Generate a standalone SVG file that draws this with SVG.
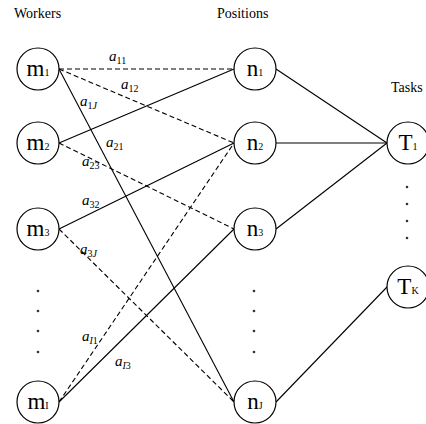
<svg xmlns="http://www.w3.org/2000/svg" width="426" height="424" viewBox="0 0 426 424">
<style>
text{font-family:"Liberation Serif","Times New Roman",serif;fill:#000}
.hdr{font-size:14px}
.nd circle{fill:#fff;stroke:#000;stroke-width:1.2}
.nl{font-size:23px;text-anchor:middle}
.sb{font-size:10px}
.ed line{stroke:#000;stroke-width:1.1}
.ed line.d{stroke-dasharray:5,3}
.lb{font-size:15px;font-style:italic}
.ls{font-size:10px;font-style:normal}
.li{font-size:10px;font-style:italic}
.dot{fill:#333}
</style>
<rect width="426" height="424" fill="#fff"/>
<text class="hdr" x="14" y="18">Workers</text>
<text class="hdr" x="217" y="18">Positions</text>
<text class="hdr" x="391" y="92">Tasks</text>
<g class="ed" id="connectors">
<line class="d" x1="59" y1="69" x2="234" y2="69"/>
<line class="d" x1="59" y1="69" x2="234" y2="143"/>
<line x1="59" y1="69" x2="234" y2="402"/>
<line x1="59" y1="143" x2="234" y2="69"/>
<line class="d" x1="59" y1="143" x2="234" y2="229"/>
<line x1="59" y1="229" x2="234" y2="143"/>
<line class="d" x1="59" y1="229" x2="234" y2="402"/>
<line class="d" x1="59" y1="402" x2="234" y2="143"/>
<line x1="59" y1="402" x2="234" y2="229"/>
<line x1="276" y1="69" x2="387" y2="143"/>
<line x1="276" y1="143" x2="387" y2="143"/>
<line x1="276" y1="229" x2="387" y2="143"/>
<line x1="276" y1="402" x2="387" y2="287"/>
</g>
<g id="edge-labels">
<text class="lb" x="109" y="61">a<tspan class="ls" dy="3">11</tspan></text>
<text class="lb" x="121" y="89">a<tspan class="ls" dy="3">12</tspan></text>
<text class="lb" x="80" y="106">a<tspan class="ls" dy="3">1</tspan><tspan class="li">J</tspan></text>
<text class="lb" x="106" y="147">a<tspan class="ls" dy="3">21</tspan></text>
<text class="lb" x="82" y="166">a<tspan class="ls" dy="3">23</tspan></text>
<text class="lb" x="82" y="205">a<tspan class="ls" dy="3">32</tspan></text>
<text class="lb" x="80" y="254">a<tspan class="ls" dy="3">3</tspan><tspan class="li">J</tspan></text>
<text class="lb" x="82" y="341">a<tspan class="li" dy="3">I</tspan><tspan class="ls">1</tspan></text>
<text class="lb" x="115" y="366">a<tspan class="li" dy="3">I</tspan><tspan class="ls">3</tspan></text>
</g>
<g class="nd" id="m1"><circle cx="38" cy="69" r="21"/><text class="nl" x="38" y="76">m<tspan class="sb">1</tspan></text></g>
<g class="nd" id="m2"><circle cx="38" cy="143" r="21"/><text class="nl" x="38" y="150">m<tspan class="sb">2</tspan></text></g>
<g class="nd" id="m3"><circle cx="38" cy="229" r="21"/><text class="nl" x="38" y="236">m<tspan class="sb">3</tspan></text></g>
<g class="nd" id="mI"><circle cx="38" cy="402" r="21"/><text class="nl" x="38" y="409">m<tspan class="sb">I</tspan></text></g>
<g class="nd" id="n1"><circle cx="255" cy="69" r="21"/><text class="nl" x="255" y="76">n<tspan class="sb">1</tspan></text></g>
<g class="nd" id="n2"><circle cx="255" cy="143" r="21"/><text class="nl" x="255" y="150">n<tspan class="sb">2</tspan></text></g>
<g class="nd" id="n3"><circle cx="255" cy="229" r="21"/><text class="nl" x="255" y="236">n<tspan class="sb">3</tspan></text></g>
<g class="nd" id="nJ"><circle cx="255" cy="402" r="21"/><text class="nl" x="255" y="409">n<tspan class="sb">J</tspan></text></g>
<g class="nd" id="T1"><circle cx="408" cy="143" r="21"/><text class="nl" x="408" y="150">T<tspan class="sb">1</tspan></text></g>
<g class="nd" id="TK"><circle cx="408" cy="287" r="21"/><text class="nl" x="408" y="294">T<tspan class="sb">K</tspan></text></g>
<g id="ellipses">
<circle class="dot" cx="38" cy="291" r="1.3"/><circle class="dot" cx="38" cy="311" r="1.3"/><circle class="dot" cx="38" cy="331" r="1.3"/><circle class="dot" cx="38" cy="352" r="1.3"/>
<circle class="dot" cx="254" cy="291" r="1.3"/><circle class="dot" cx="254" cy="311" r="1.3"/><circle class="dot" cx="254" cy="331" r="1.3"/><circle class="dot" cx="254" cy="352" r="1.3"/>
<circle class="dot" cx="407" cy="187" r="1.3"/><circle class="dot" cx="407" cy="204" r="1.3"/><circle class="dot" cx="407" cy="221" r="1.3"/><circle class="dot" cx="407" cy="238" r="1.3"/>
</g>
</svg>
